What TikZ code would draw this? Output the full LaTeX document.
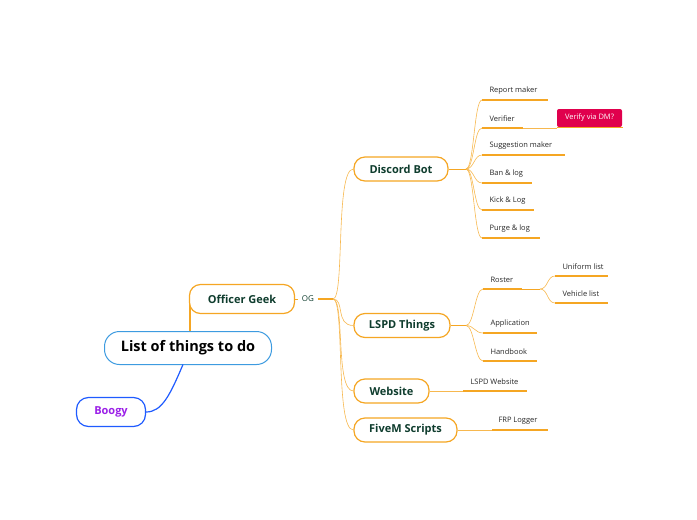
\documentclass[tikz,border=0pt]{standalone}
\usepackage{fontspec}
\setmainfont{Open Sans}
\usetikzlibrary{calc}
\definecolor{org}{HTML}{F5A623}
\definecolor{dkgreen}{HTML}{0F3D2E}
\definecolor{rootblue}{HTML}{3D9BE0}
\definecolor{bblue}{HTML}{1F5BFF}
\definecolor{purp}{HTML}{9B1FE8}
\definecolor{redbox}{HTML}{E0004D}
\newcommand{\myleaf}[6]{%
  \node[leaf] (#1) at (#3-3,#4-9) {#2};
  \coordinate (#1s) at (#3-7,#4);
  \draw[uline] (#1s) -- (#5,#4);
  \draw[conn] (#6) .. controls ($(#6)+(8,0)$) and ($(#1s)+(-8,0)$) .. (#1s);
}
\begin{document}
\begin{tikzpicture}[x=1pt,y=-1pt,
  mainbox/.style={draw=org,line width=1.2pt,rounded corners=11pt,fill=white,minimum height=24pt,font=\fontsize{11}{13}\selectfont\bfseries,text=dkgreen},
  leaf/.style={font=\fontsize{7.5}{9}\selectfont,anchor=west,text=black!85},
  uline/.style={draw=org,line width=1.2pt},
  conn/.style={draw=org!80,line width=0.6pt}]
\useasboundingbox (0,0) rectangle (697,520);
% root
\draw[org,line width=1.5pt] (190,331) -- (190,300);
\node[draw=rootblue,line width=1pt,rounded corners=15pt,fill=white,minimum width=167pt,minimum height=33pt,font=\fontsize{14.5}{17}\selectfont\bfseries] (root) at (188,348) {List of things to do};
\node[mainbox,minimum width=105pt,minimum height=29pt] (og) at (242,299) {Officer Geek};
\node[draw=bblue,line width=1.2pt,rounded corners=12pt,fill=white,minimum width=69pt,minimum height=29pt,font=\fontsize{11}{13}\selectfont\bfseries,text=purp] (boogy) at (111,412) {Boogy};
\draw[bblue,line width=1.2pt] (183,364.5) .. controls (170,395) and (162,412) .. (boogy.east);
\node[font=\fontsize{8}{10}\selectfont,text=dkgreen] (oglab) at (308,299) {OG};
\draw[org,line width=0.6pt] (og.east) -- (oglab.west);
\coordinate (hub) at (333,299);
\draw[org,line width=1.5pt] (oglab.east) -- (hub);
% main nodes
\node[mainbox,minimum width=94pt] (db) at (401,169) {Discord Bot};
\node[mainbox,minimum width=96pt] (lspd) at (402,325.5) {LSPD Things};
\node[mainbox,minimum width=75pt] (web) at (391.5,391) {Website};
\node[mainbox,minimum width=103pt] (five) at (405.5,430) {FiveM Scripts};
\foreach \n in {db,lspd,web,five}{
  \draw[conn] (hub) .. controls (345,299) and (335,0|-\n.west) .. (\n.west);
}
\coordinate (dbo) at (466,169);
\draw[org,line width=1pt] (db.east) -- (dbo);
\coordinate (lso) at (466,325.5);
\draw[org,line width=1pt] (lspd.east) -- (lso);
% Discord Bot leaves
\myleaf{rm}{Report maker}{489}{100}{548}{dbo}
\myleaf{ver}{Verifier}{489}{128}{523}{dbo}
\myleaf{sug}{Suggestion maker}{489}{155}{565}{dbo}
\myleaf{ban}{Ban \& log}{489}{183}{532}{dbo}
\myleaf{kick}{Kick \& Log}{489}{210}{534}{dbo}
\myleaf{purge}{Purge \& log}{489}{238}{540}{dbo}
\node[fill=redbox,rounded corners=2pt,text=white,font=\fontsize{7.5}{9}\selectfont,minimum width=65pt,minimum height=18pt] (dm) at (589.5,118) {Verify via DM?};
\draw[conn] (523,128) -- (557,128);
\draw[uline] (dm.south west) -- ($(dm.south east)+(1,0)$);
% LSPD leaves
\myleaf{ros}{Roster}{490}{289}{522}{lso}
\myleaf{app}{Application}{490}{333}{537}{lso}
\myleaf{hb}{Handbook}{490}{361}{537}{lso}
\coordinate (roo) at (540,289);
\draw[org,line width=1pt] (522,289) -- (roo);
\myleaf{uni}{Uniform list}{562}{276}{608}{roo}
\myleaf{veh}{Vehicle list}{562}{303}{608}{roo}
% Website
\coordinate (weo) at (429,391);
\node[leaf] (lw) at (467,382) {LSPD Website};
\draw[uline] (463,391) -- (527,391);
\draw[conn] (web.east) -- (463,391);
% FiveM
\node[leaf] (frp) at (495,421) {FRP Logger};
\draw[uline] (492,430) -- (548,430);
\draw[conn] (five.east) -- (492,430);
\end{tikzpicture}
\end{document}
